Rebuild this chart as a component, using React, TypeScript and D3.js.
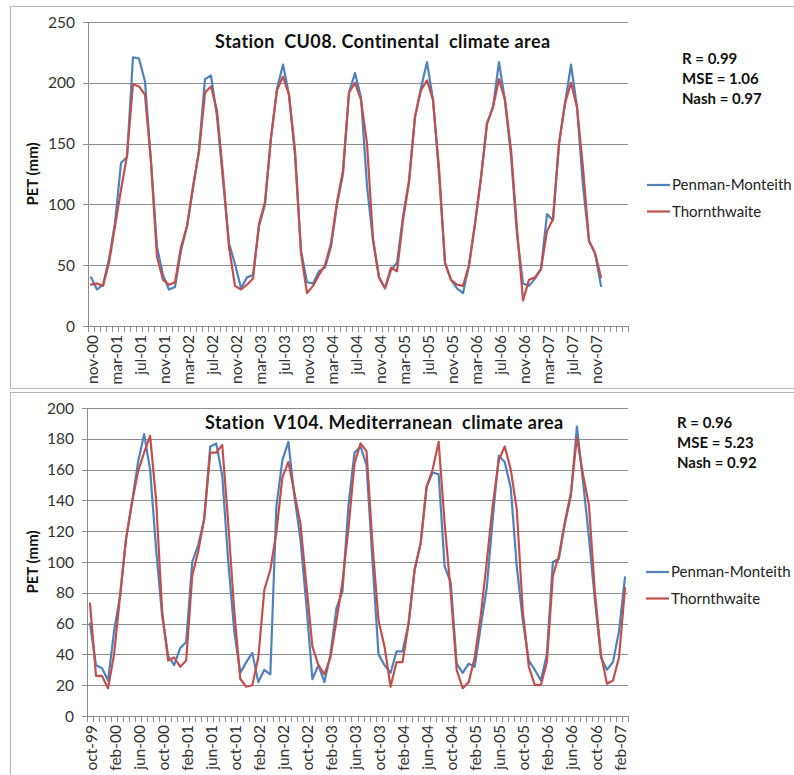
import React from 'react';
import * as d3 from 'd3';

// ---------- Data ----------
// Top chart: Station CU08 (nov-00 .. dec-07), 90 category slots on the axis
const topTickLabels = ['nov-00','mar-01','jul-01','nov-01','mar-02','jul-02','nov-02','mar-03','jul-03','nov-03','mar-04','jul-04','nov-04','mar-05','jul-05','nov-05','mar-06','jul-06','nov-06','mar-07','jul-07','nov-07'];
const topPenman = [
  40, 30, 34, 55, 85, 134, 139, 221, 220, 201, 135, 65,
  42, 30, 32, 62, 82, 113, 145, 203, 206, 172, 120, 68,
  51, 31, 40, 42, 82, 100, 155, 195, 215, 190, 140, 62,
  36, 35, 45, 48, 65, 100, 125, 192, 208, 188, 115, 70,
  40, 31, 46, 52, 90, 120, 172, 196, 217, 186, 125, 52,
  38, 31, 27, 50, 84, 122, 167, 180, 217, 185, 140, 75,
  35, 33, 39, 47, 92, 87, 150, 183, 215, 180, 115, 70,
  60, 33,
];
const topThorn = [
  34, 35, 33, 52, 82, 112, 140, 199, 197, 190, 135, 57,
  38, 34, 36, 65, 82, 115, 143, 192, 197, 177, 125, 65,
  33, 30, 34, 39, 84, 102, 155, 194, 205, 190, 145, 60,
  27, 33, 42, 50, 68, 102, 128, 192, 200, 186, 150, 72,
  40, 31, 48, 45, 87, 118, 172, 194, 202, 186, 130, 52,
  38, 34, 33, 50, 84, 122, 166, 180, 203, 186, 145, 80,
  21, 38, 40, 47, 78, 88, 150, 183, 200, 180, 130, 70,
  60, 40,
];
const topStats = ['R = 0.99', 'MSE = 1.06', 'Nash = 0.97'];

// Bottom chart: Station V104 (oct-99 .. mar-07)
const bottomTickLabels = ['oct-99','feb-00','jun-00','oct-00','feb-01','jun-01','oct-01','feb-02','jun-02','oct-02','feb-03','jun-03','oct-03','feb-04','jun-04','oct-04','feb-05','jun-05','oct-05','feb-06','jun-06','oct-06','feb-07'];
const bottomPenman = [
  60, 33, 31, 23, 55, 78, 115, 139, 165, 183, 160, 108,
  65, 39, 33, 44, 48, 100, 111, 128, 175, 177, 156, 100,
  55, 28, 35, 41, 22, 30, 27, 136, 166, 178, 143, 115,
  72, 24, 33, 22, 40, 70, 81, 137, 171, 175, 163, 100,
  40, 33, 28, 42, 42, 60, 95, 112, 149, 158, 157, 97,
  87, 34, 28, 34, 32, 58, 83, 128, 169, 165, 148, 97,
  62, 36, 30, 23, 40, 100, 102, 125, 143, 188, 153, 116,
  75, 38, 30, 35, 55, 90,
];
const bottomThorn = [
  73, 26, 26, 18, 40, 78, 115, 139, 159, 171, 182, 140,
  68, 36, 38, 32, 36, 91, 107, 128, 171, 171, 176, 125,
  68, 24, 19, 20, 38, 82, 95, 119, 155, 165, 145, 125,
  85, 45, 33, 27, 38, 62, 87, 122, 164, 177, 172, 111,
  62, 45, 19, 35, 35, 60, 95, 112, 149, 160, 178, 125,
  81, 30, 18, 22, 38, 65, 100, 137, 166, 175, 160, 134,
  68, 32, 20, 20, 35, 91, 104, 126, 145, 181, 157, 137,
  80, 40, 21, 23, 38, 83,
];
const bottomStats = ['R = 0.96', 'MSE = 5.23', 'Nash = 0.92'];

const seriesNames = ['Penman-Monteith', 'Thornthwaite'];
const seriesColors = ['#4F81BD', '#C0504D'];

const FONT = 'Lato, "Open Sans", sans-serif';

type ChartProps = {
  title: string; titleX: number; titleY: number;
  left: number; right: number; top: number; bottom: number;
  yMax: number; yStep: number; nCats: number;
  tickLabels: string[]; series: number[][];
  stats: string[]; statsX: number; statsY: number;
  legendY: number; legendX: number;
};

function Chart(p: ChartProps) {
  const x = d3.scaleBand<number>().domain(d3.range(p.nCats)).range([p.left, p.right]);
  const bw = x.bandwidth();
  const cx = (i: number) => (x(i) as number) + bw / 2;
  const y = d3.scaleLinear().domain([0, p.yMax]).range([p.bottom, p.top]);
  const yTicks = d3.range(0, p.yMax + 0.001, p.yStep);
  const line = d3.line<number>().x((_, i) => cx(i)).y(d => y(d));
  const grid = '#8c8c8c';
  return (
    <g>
      {yTicks.map(t => (
        <g key={t}>
          {t > 0 && <line x1={p.left} x2={p.right} y1={Math.round(y(t)) + 0.5} y2={Math.round(y(t)) + 0.5} stroke={grid} strokeWidth={1} />}
          <line x1={p.left - 5} x2={p.left} y1={Math.round(y(t)) + 0.5} y2={Math.round(y(t)) + 0.5} stroke={grid} />
          <text x={p.left - 13} y={y(t)} dy="0.36em" textAnchor="end" fontSize={15.5} fill="#333" fontFamily={FONT}>{t}</text>
        </g>
      ))}
      <line x1={p.left + 0.5} x2={p.left + 0.5} y1={p.top} y2={p.bottom + 0.5} stroke={grid} />
      <line x1={p.left} x2={p.right} y1={p.bottom + 0.5} y2={p.bottom + 0.5} stroke={grid} />
      {d3.range(p.nCats + 1).map(i => {
        const xx = Math.round(p.left + i * bw) + 0.5;
        return <line key={'t' + i} x1={xx} x2={xx} y1={p.bottom} y2={p.bottom + 6} stroke={grid} />;
      })}
      {p.tickLabels.map((lab, k) => (
        <text key={lab} transform={`translate(${cx(k * 4) + 1},${p.bottom + 9}) rotate(-90)`} dy="0.36em" textAnchor="end" fontSize={15.5} fill="#333" fontFamily={FONT}>{lab}</text>
      ))}
      <text transform={`translate(33,${(p.top + p.bottom) / 2}) rotate(-90)`} dy="0.36em" textAnchor="middle" fontSize={15} fontWeight="bold" fill="#111" fontFamily={FONT}>PET (mm)</text>
      {p.series.map((s, si) => (
        <path key={si} d={line(s) || ''} fill="none" stroke={seriesColors[si]} strokeWidth={2.2} strokeLinejoin="round" strokeLinecap="round" />
      ))}
      <text x={p.titleX} y={p.titleY} fontSize={18} letterSpacing={0.4} fontWeight="bold" fill="#111" fontFamily={FONT} style={{ whiteSpace: 'pre' }}>{p.title}</text>
      {p.stats.map((s, k) => (
        <text key={s} x={p.statsX} y={p.statsY + k * 20} fontSize={15} fontWeight="bold" fill="#111" fontFamily={FONT}>{s}</text>
      ))}
      {seriesNames.map((n, k) => (
        <g key={n}>
          <line x1={p.legendX} x2={p.legendX + 23} y1={p.legendY + k * 26.5} y2={p.legendY + k * 26.5} stroke={seriesColors[k]} strokeWidth={2.2} />
          <text x={p.legendX + 25} y={p.legendY + k * 26.5} dy="0.36em" fontSize={15} fill="#222" fontFamily={FONT}>{n}</text>
        </g>
      ))}
    </g>
  );
}

export default function App() {
  return (
    <svg width={794} height={775} style={{ position: 'absolute', left: 0, top: 0, background: '#fff' }}>
      <rect x={0} y={0} width={794} height={775} fill="#fff" />
      <rect x={10.5} y={6.5} width={800} height={382} fill="none" stroke="#b5b5b5" />
      <rect x={10.5} y={392.5} width={800} height={420} fill="none" stroke="#b5b5b5" />
      <Chart title={'Station  CU08. Continental  climate area'} titleX={215} titleY={48}
        left={88} right={628} top={22} bottom={326} yMax={250} yStep={50} nCats={90}
        tickLabels={topTickLabels} series={[topPenman, topThorn]}
        stats={topStats} statsX={682} statsY={64} legendX={647} legendY={185} />
      <Chart title={'Station  V104. Mediterranean  climate area'} titleX={205} titleY={429}
        left={87} right={628} top={408} bottom={716} yMax={200} yStep={20} nCats={90}
        tickLabels={bottomTickLabels} series={[bottomPenman, bottomThorn]}
        stats={bottomStats} statsX={677} statsY={428} legendX={646} legendY={572} />
    </svg>
  );
}
